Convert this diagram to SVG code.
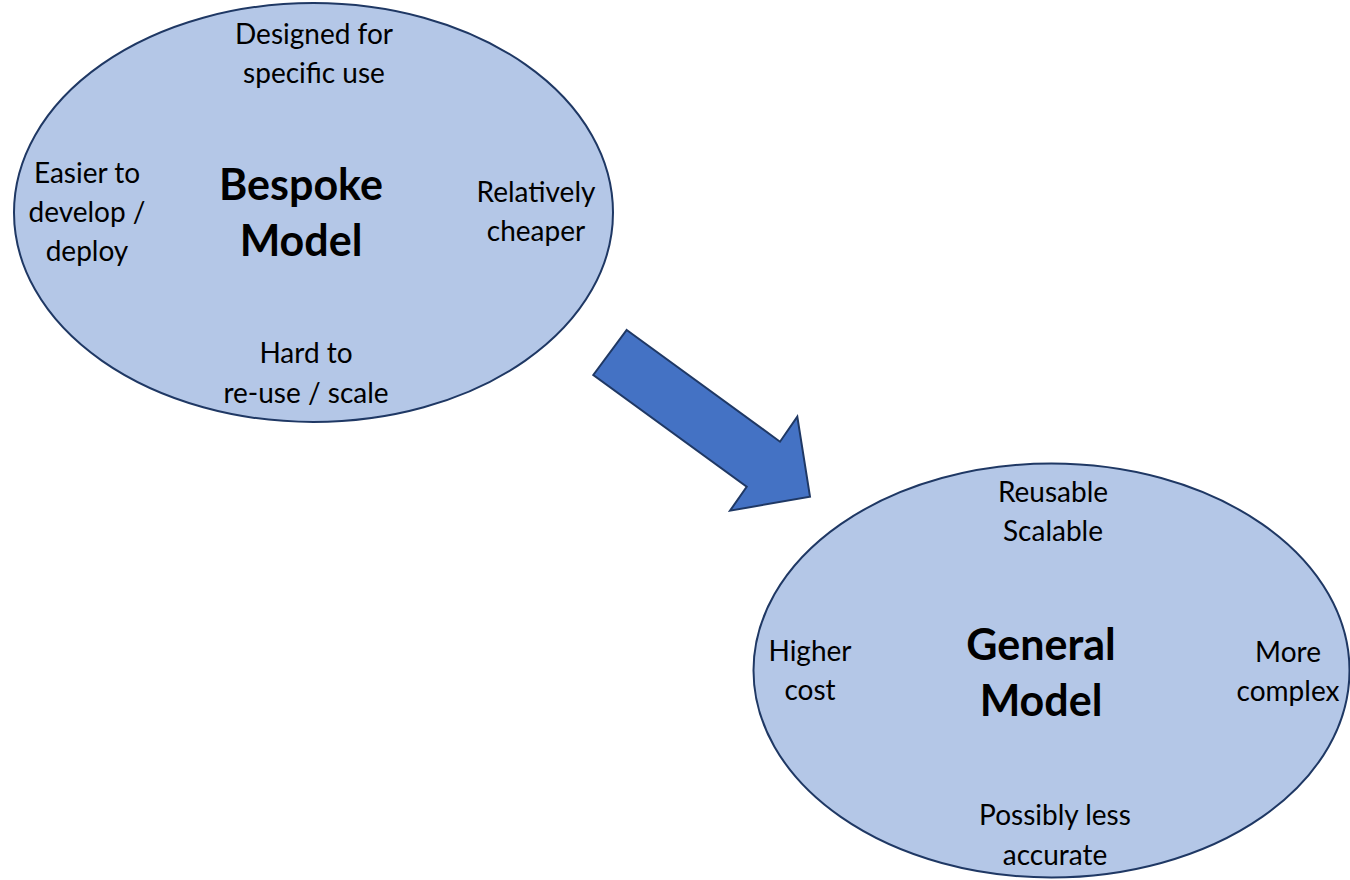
<svg xmlns="http://www.w3.org/2000/svg" width="1350" height="880" viewBox="0 0 1350 880">
  <style>
    .oval { fill: #B4C7E7; stroke: #1F3864; stroke-width: 2; }
    .note { font-family: Lato, "Open Sans", "Liberation Sans", sans-serif; font-size: 28px; fill: #000; text-anchor: middle; }
    .title { font-family: Lato, "Open Sans", "Liberation Sans", sans-serif; font-size: 43px; font-weight: bold; fill: #000; text-anchor: middle; }
    .arrow { fill: #4472C4; stroke: #1F3864; stroke-width: 2; stroke-linejoin: miter; }
  </style>
  <rect width="1350" height="880" fill="#ffffff"/>

  <g id="connectors">
    <polygon class="arrow" points="626.7,330 780,441.7 797.3,416.7 810,496.7 730,510.7 746.7,486.7 593.3,375"/>
  </g>

  <g id="bespoke">
    <ellipse class="oval" cx="313.5" cy="212.5" rx="299.5" ry="209.5"/>
    <text class="note" x="314" y="44">Designed for</text>
    <text class="note" x="314" y="83">specific use</text>
    <text class="note" x="87" y="183">Easier to</text>
    <text class="note" x="87" y="222">develop /</text>
    <text class="note" x="87" y="261">deploy</text>
    <text class="title" x="301" y="200">Bespoke</text>
    <text class="title" x="301" y="256">Model</text>
    <text class="note" x="536" y="202">Relatively</text>
    <text class="note" x="536" y="241">cheaper</text>
    <text class="note" x="306" y="363">Hard to</text>
    <text class="note" x="306" y="403">re-use / scale</text>
  </g>

  <g id="general">
    <ellipse class="oval" cx="1051.5" cy="670.5" rx="298" ry="207"/>
    <text class="note" x="1053" y="502">Reusable</text>
    <text class="note" x="1053" y="541">Scalable</text>
    <text class="note" x="810" y="661">Higher</text>
    <text class="note" x="810" y="700">cost</text>
    <text class="title" x="1041" y="660">General</text>
    <text class="title" x="1041" y="716">Model</text>
    <text class="note" x="1288" y="662">More</text>
    <text class="note" x="1288" y="701">complex</text>
    <text class="note" x="1055" y="825">Possibly less</text>
    <text class="note" x="1055" y="865">accurate</text>
  </g>
</svg>
